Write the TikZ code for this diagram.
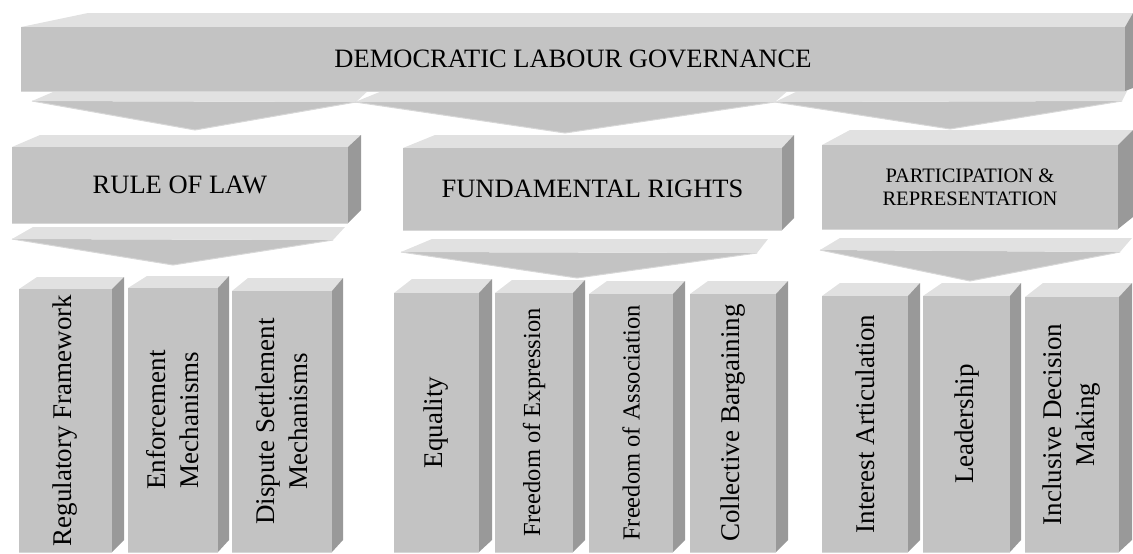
\documentclass[tikz,border=0pt]{standalone}
\usepackage{fontspec}
\setmainfont{Liberation Serif}
\definecolor{frontc}{RGB}{195,195,195}
\definecolor{topc}{RGB}{225,225,225}
\definecolor{sidec}{RGB}{153,153,153}
\definecolor{edgec}{RGB}{215,215,215}
% name, L, T, R, B, back-left x, back-top y, right-face x, right-face bottom y
\newcommand\drawcube[9]{%
  \fill[topc] (#2,#3) -- (#6,#7) -- (#8,#7) -- (#4,#3) -- cycle;
  \fill[sidec] (#4,#3) -- (#8,#7) -- (#8,#9) -- (#4,#5) -- cycle;
  \fill[frontc] (#2,#3) rectangle (#4,#5);
  \draw[edgec, line width=1pt] (#2,#5) -- (#4,#5);
  \path (#2,#3) -- node[coordinate] (#1) {} (#4,#5);
}
% left x, left y, band top y, band top-left x, band top-right x, right x, right y, tip x, tip y
\newcommand\drawdownarrow[9]{%
  \fill[frontc] (#1,#2) -- (#6,#7) -- (#8,#9) -- cycle;
  \draw[edgec, line width=1pt] (#1,#2) -- (#8,#9) -- (#6,#7);
  \fill[topc] (#1,#2) -- (#4,#3) -- (#5,#3) -- (#6,#7) -- cycle;
}
\tikzset{
  lbl/.style={font=\fontsize{26.5}{32}\selectfont, align=center, inner sep=0pt},
  smalllbl/.style={font=\fontsize{20.5}{23}\selectfont, align=center, inner sep=0pt},
  vlbl/.style={font=\fontsize{27}{33}\selectfont, align=center, inner sep=0pt, rotate=90},
  vlblsm/.style={font=\fontsize{24.5}{30}\selectfont, align=center, inner sep=0pt, rotate=90}
}
\begin{document}
\begin{tikzpicture}[x=1pt,y=-1pt]
\useasboundingbox (0,0) rectangle (1133,554);

% arrows under top bar
\drawdownarrow{32}{101}{89}{60}{370}{356}{102}{195}{130}
\drawdownarrow{355}{102}{89}{387}{790}{775}{102}{565}{133}
\drawdownarrow{775}{102}{89}{802}{1128}{1122}{101}{950}{129}

% top bar
\drawcube{top}{21}{27}{1125}{91}{88}{13}{1133}{88}
\node[lbl] (ttop) at (top) {DEMOCRATIC LABOUR GOVERNANCE};

% level 2 arrows
\drawdownarrow{12}{239}{227}{33}{345}{333}{240}{173}{265}
\drawdownarrow{401}{252}{239}{432}{768}{757}{253}{577}{278}
\drawdownarrow{820}{250}{238}{840}{1132}{1120}{252}{970}{281}

% level 2 boxes
\drawcube{rol}{12}{147}{348}{223}{40}{135}{361}{210}
\node[lbl] (trol) at (rol) {RULE OF LAW};
\drawcube{fr}{403}{148}{782}{230}{435}{135}{794}{218}
\node[lbl] (tfr) at (fr) {FUNDAMENTAL RIGHTS};
\drawcube{pr}{822}{145}{1118}{229}{850}{130}{1133}{217}
\node[smalllbl] (tpr) at (pr) {PARTICIPATION \&\\REPRESENTATION};

% level 3 boxes
\drawcube{reg}{19}{289}{112}{552}{37}{277}{124}{540}
\node[vlbl] (treg) at (reg) {Regulatory Framework};
\drawcube{enf}{128}{288}{218}{552}{147}{276}{229}{540}
\node[vlbl] (tenf) at (enf) {Enforcement\\Mechanisms};
\drawcube{dis}{232}{291}{332}{552}{248}{278}{343}{540}
\node[vlbl] (tdis) at (dis) {Dispute Settlement\\Mechanisms};

\drawcube{equ}{394}{293}{479}{552}{412}{279}{492}{540}
\node[vlbl] (tequ) at (equ) {Equality};
\drawcube{foe}{495}{293}{573}{552}{512}{280}{585}{540}
\node[vlblsm] (tfoe) at (foe) {Freedom of Expression};
\drawcube{foa}{589}{294}{673}{552}{607}{281}{685}{540}
\node[vlblsm] (tfoa) at (foa) {Freedom of Association};
\drawcube{cb}{690}{294}{776}{552}{708}{281}{788}{540}
\node[vlbl] (tcb) at (cb) {Collective Bargaining};

\drawcube{ia}{822}{296}{908}{552}{840}{283}{920}{540}
\node[vlbl] (tia) at (ia) {Interest Articulation};
\drawcube{lea}{923}{296}{1010}{552}{942}{283}{1021}{540}
\node[vlbl] (tlea) at (lea) {Leadership};
\drawcube{idm}{1025}{297}{1119}{552}{1043}{283}{1132}{540}
\node[vlbl] (tidm) at (idm) {Inclusive Decision\\Making};
\end{tikzpicture}
\end{document}
